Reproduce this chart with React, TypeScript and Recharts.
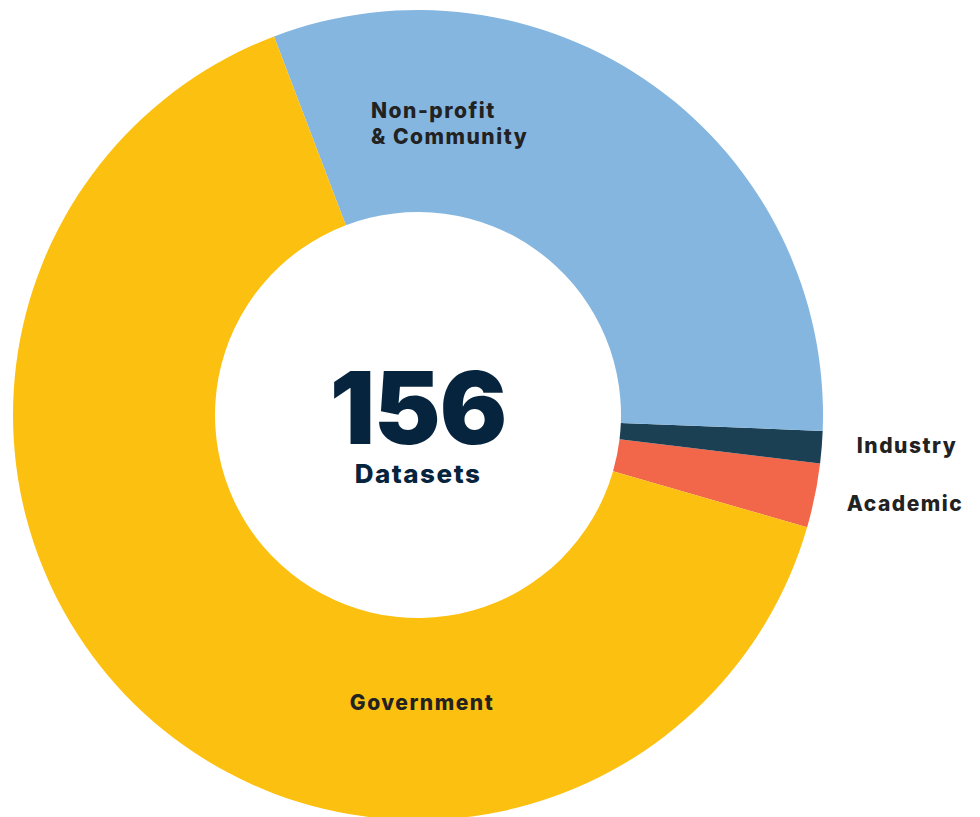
import { PieChart, Pie, Cell } from "recharts";

const categories = ["Academic", "Industry", "Non-profit & Community", "Government"];
const counts = [4, 2, 49, 101];
const colors = ["#F26649", "#1B4054", "#85B6E0", "#FCC010"];
const totalLabel = "Datasets";

const data = categories.map((name, i) => ({ name, value: counts[i] }));
const total = counts.reduce((a, b) => a + b, 0);

// hand-placed label spots, like the original
const labelPos: Record<string, { x: number; y: number; anchor: "start" | "middle" | "end"; lines: string[] }> = {
  "Non-profit & Community": { x: 371, y: 118, anchor: "start", lines: ["Non-profit", "& Community"] },
  Industry: { x: 907, y: 453, anchor: "middle", lines: ["Industry"] },
  Academic: { x: 905, y: 511, anchor: "middle", lines: ["Academic"] },
  Government: { x: 422, y: 710, anchor: "middle", lines: ["Government"] },
};

const renderLabel = (props: any) => {
  const p = labelPos[props.name];
  if (!p) return null;
  return (
    <text
      x={p.x}
      y={p.y}
      textAnchor={p.anchor}
      fill="#222222"
      fontFamily="Inter, sans-serif"
      fontWeight={800}
      fontSize={21}
      letterSpacing={1.5}
    >
      {p.lines.map((l, i) => (
        <tspan key={l} x={p.x} dy={i === 0 ? 0 : 26}>
          {l}
        </tspan>
      ))}
    </text>
  );
};

export default function App() {
  return (
    <div style={{ position: "absolute", left: 0, top: 0, width: 980, height: 817, background: "#fff" }}>
      <PieChart width={980} height={817}>
        <Pie
          data={data}
          dataKey="value"
          nameKey="name"
          cx={413}
          cy={410}
          innerRadius={203}
          outerRadius={405}
          startAngle={-16.1}
          endAngle={343.9}
          stroke="none"
          labelLine={false}
          label={renderLabel}
          isAnimationActive={false}
        >
          {data.map((d, i) => (
            <Cell key={d.name} fill={colors[i]} />
          ))}
        </Pie>
        <text
          x={418}
          y={444}
          textAnchor="middle"
          fill="#06243D"
          fontFamily="Inter, sans-serif"
          fontWeight={900}
          fontSize={100}
          letterSpacing={-1}
        >
          {total}
        </text>
        <text
          x={418}
          y={483}
          textAnchor="middle"
          fill="#06243D"
          fontFamily="Inter, sans-serif"
          fontWeight={800}
          fontSize={26}
          letterSpacing={1.5}
        >
          {totalLabel}
        </text>
      </PieChart>
    </div>
  );
}
